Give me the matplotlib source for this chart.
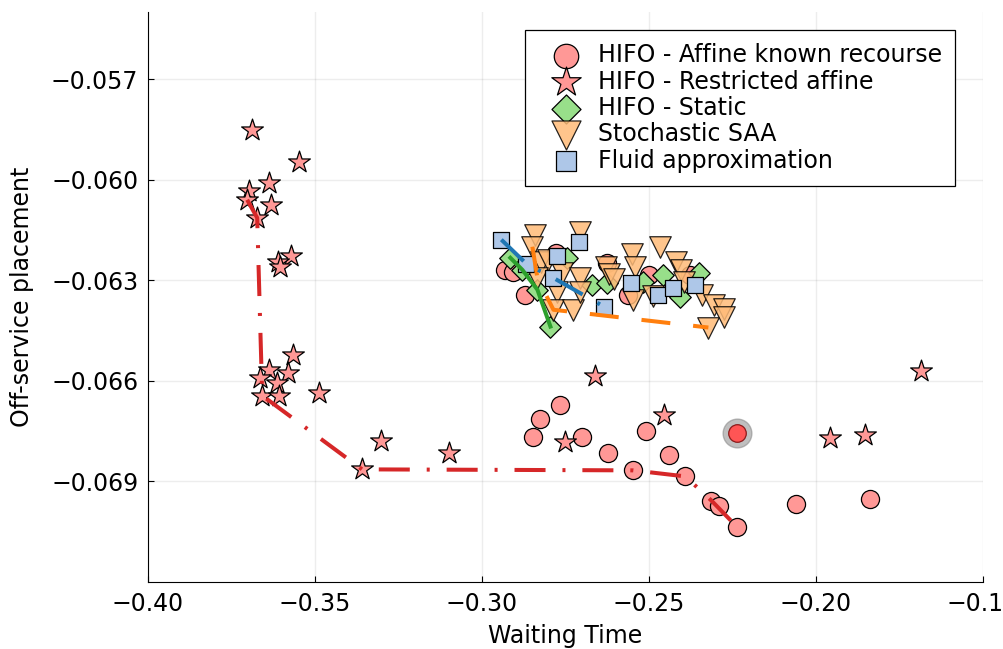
import matplotlib
matplotlib.use("Agg")
import matplotlib.pyplot as plt

# HIFO - Affine known recourse
affine_x = [-0.2765, -0.2825, -0.2846, -0.2699, -0.2622, -0.2547, -0.2508, -0.2439,
            -0.2391, -0.2313, -0.2289, -0.2235, -0.2061, -0.1839,
            -0.2930, -0.2906, -0.2870, -0.2777, -0.2625, -0.2562, -0.2499, -0.2376]
affine_y = [-0.06671, -0.06715, -0.06766, -0.06766, -0.06814, -0.06867, -0.06751, -0.06820,
            -0.06885, -0.06957, -0.06974, -0.07037, -0.06966, -0.06951,
            -0.06269, -0.06275, -0.06343, -0.06218, -0.06248, -0.06343, -0.06284, -0.06284]

# highlighted point
sel_x = [-0.2235]
sel_y = [-0.06757]

# HIFO - Restricted affine
restr_x = [-0.3688, -0.3548, -0.3637, -0.3697, -0.3703, -0.3631, -0.3673, -0.3571, -0.3610,
           -0.3604, -0.3565, -0.3637, -0.3580, -0.3664, -0.3613, -0.3658, -0.3607, -0.3488,
           -0.3302, -0.3359, -0.3098, -0.2750, -0.2663, -0.2454, -0.1959, -0.1854, -0.1684]
restr_y = [-0.05852, -0.05947, -0.06010, -0.06034, -0.06060, -0.06075, -0.06114, -0.06227, -0.06245,
           -0.06260, -0.06522, -0.06567, -0.06578, -0.06593, -0.06605, -0.06644, -0.06644, -0.06635,
           -0.06778, -0.06864, -0.06814, -0.06781, -0.06587, -0.06703, -0.06769, -0.06763, -0.06572]

# HIFO - Static
static_x = [-0.2915, -0.2879, -0.2834, -0.2795, -0.2744, -0.2672, -0.2625, -0.2517, -0.2457,
            -0.2406, -0.2349]
static_y = [-0.06233, -0.06269, -0.06328, -0.06438, -0.06233, -0.06313, -0.06307, -0.06304, -0.06284,
            -0.06349, -0.06278]

# Stochastic SAA
saa_x = [-0.2840, -0.2849, -0.2705, -0.2822, -0.2801, -0.2834, -0.2774, -0.2786, -0.2726,
         -0.2759, -0.2705, -0.2705, -0.2628, -0.2619, -0.2604, -0.2550, -0.2541, -0.2547,
         -0.2487, -0.2466, -0.2418, -0.2403, -0.2394, -0.2340, -0.2304, -0.2274, -0.2274, -0.2322]
saa_y = [-0.06165, -0.06200, -0.06156, -0.06245, -0.06239, -0.06293, -0.06334, -0.06388, -0.06388,
         -0.06278, -0.06293, -0.06334, -0.06260, -0.06281, -0.06296, -0.06221, -0.06260, -0.06358,
         -0.06346, -0.06200, -0.06245, -0.06269, -0.06304, -0.06343, -0.06373, -0.06385, -0.06409, -0.06441]

# Fluid approximation
fluid_x = [-0.2942, -0.2867, -0.2774, -0.2708, -0.2786, -0.2634, -0.2553, -0.2472, -0.2427, -0.2361]
fluid_y = [-0.06179, -0.06251, -0.06227, -0.06185, -0.06293, -0.06379, -0.06307, -0.06343, -0.06322, -0.06313]

# frontiers
hifo_front_x = [-0.3703, -0.3673, -0.3658, -0.3359, -0.2547, -0.2391, -0.2313, -0.2235]
hifo_front_y = [-0.06060, -0.06114, -0.06644, -0.06864, -0.06867, -0.06885, -0.06957, -0.07037]
static_front_x = [-0.2915, -0.2879, -0.2834, -0.2795]
static_front_y = [-0.06233, -0.06269, -0.06328, -0.06438]
saa_front_x = [-0.2849, -0.2834, -0.2786, -0.2322]
saa_front_y = [-0.06200, -0.06293, -0.06388, -0.06441]
fluid_front_x = [-0.2942, -0.2867, -0.2786, -0.2634]
fluid_front_y = [-0.06179, -0.06251, -0.06293, -0.06379]

fig = plt.figure(figsize=(10.04, 6.49), dpi=100)
ax = fig.add_axes([0.1474, 0.1032, 0.8316, 0.8783])

ek = dict(edgecolors="black", linewidths=0.9)
ax.scatter(affine_x, affine_y, s=170, marker="o", facecolors="#ff9896",
           label="HIFO - Affine known recourse", zorder=3, **ek)
ax.scatter(restr_x, restr_y, s=270, marker="*", facecolors="#ff9896",
           label="HIFO - Restricted affine", zorder=3, **ek)
ax.scatter(static_x, static_y, s=120, marker="D", facecolors="#98df8a",
           label="HIFO - Static", zorder=3, **ek)
ax.scatter(saa_x, saa_y, s=240, marker="v", facecolors="#ffbb78", alpha=0.85,
           label="Stochastic SAA", zorder=3, **ek)
ax.scatter(fluid_x, fluid_y, s=125, marker="s", facecolors="#aec7e8",
           label="Fluid approximation", zorder=3, **ek)

ax.scatter(sel_x, sel_y, s=430, marker="o", color="gray", alpha=0.5, zorder=3)
ax.scatter(sel_x, sel_y, s=160, marker="o", facecolors="#ff5555", edgecolors="#8b1a1a",
           linewidths=0.9, zorder=4)

ax.plot(hifo_front_x, hifo_front_y, color="#d62728", lw=2.9,
        linestyle=(0, (7.7, 4.2, 0.75, 4.2)), zorder=4)
ax.plot(static_front_x, static_front_y, color="#2ca02c", lw=2.9, zorder=4)
ax.plot(saa_front_x, saa_front_y, color="#ff7f0e", lw=2.9,
        linestyle=(0, (7.2, 5.7)), zorder=4)
ax.plot(fluid_front_x, fluid_front_y, color="#1f77b4", lw=2.9,
        linestyle=(0, (7.7, 4.2, 0.75, 4.2)), zorder=4)

ax.set_xlim(-0.40, -0.15)
ax.set_ylim(-0.072, -0.055)
ax.set_xticks([-0.40, -0.35, -0.30, -0.25, -0.20, -0.15])
ax.set_xticklabels(["\u22120.40", "\u22120.35", "\u22120.30", "\u22120.25", "\u22120.20", "\u22120.15"])
ax.set_yticks([-0.069, -0.066, -0.063, -0.060, -0.057])
ax.set_yticklabels(["\u22120.069", "\u22120.066", "\u22120.063", "\u22120.060", "\u22120.057"])
ax.tick_params(direction="in", length=4, labelsize=17, width=0.8, pad=7)
ax.grid(True, color="black", alpha=0.07, lw=1)
ax.set_axisbelow(True)
for s in ["top", "right"]:
    ax.spines[s].set_visible(False)

ax.set_xlabel("Waiting Time", fontsize=17, labelpad=6)
ax.set_ylabel("Off-service placement", fontsize=17, labelpad=12)

leg = ax.legend(loc="upper right", bbox_to_anchor=(0.9665, 0.968), borderaxespad=0,
                fontsize=17, fancybox=False, edgecolor="black", framealpha=1,
                markerscale=1.35, handlelength=2.4, handletextpad=0.15,
                labelspacing=0.1, borderpad=0.55)
leg.get_frame().set_linewidth(0.9)

plt.savefig("out.png", dpi=100)
